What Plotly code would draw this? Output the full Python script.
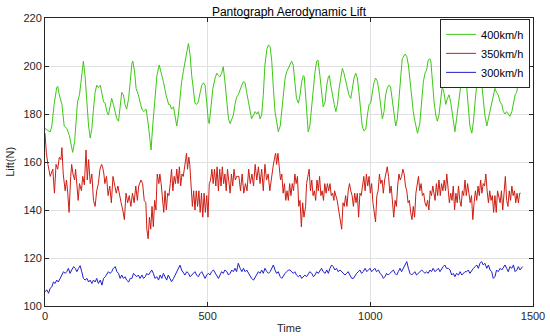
import plotly.graph_objects as go

# ---------------- data ----------------
green_t = [0,11,16,21,28,36,39,44,52,59,67,75,82,85,91,96,100,106,113,118,123,128,134,139,144,149,154,159,164,170,
           175,180,185,190,195,200,205,210,216,221,226,231,236,241,246,251,257,262,267,270,275,280,287,292,298,303,311,318,323,326,
           331,337,344,351,356,364,372,380,
           384,389,395,400,405,410,415,420,425,430,436,441,446,451,456,461,466,471,477,482,487,492,497,502,505,510,516,523,528,533,
           538,543,548,553,559,564,569,574,579,584,589,594,600,605,610,615,620,625,630,635,641,646,651,656,661,666,671,676,682,687,
           692,697,702,707,712,717,723,728,733,738,743,748,
           753,758,763,768,773,779,784,789,794,797,802,806,809,814,820,825,830,835,839,845,850,855,861,866,871,874,879,884,889,894,
           899,904,909,914,919,924,929,934,940,945,950,955,960,965,970,975,980,986,991,996,1001,1006,1011,1016,1022,1027,1032,1037,1042,1047,
           1052,1057,1062,1068,1073,1078,1083,1088,1093,1098,1107,1112,1117,1122,1127,1132,
           1137,1145,1152,1158,1163,1168,1173,1178,1183,1186,1190,1196,1201,1206,1211,1216,1221,1226,1232,1237,
           1242,1247,1252,1257,1260,1265,1271,1276,1281,1286,1291,1296,1301,1306,1312,1317,1322,1327,1332,1337,
           1342,1347,1352,1358,1363,1368,1373,1378,1383,1388,1393,1399,1404,1409,1414,1419,1424,1429,1435,1440,
           1445,1450,1455,1460,1465,1468]
green_v = [174,173,172.5,175,184,191,191.5,188,184,175,174,171,167,164,168.5,179.6,185,188,197.6,202,
           196,184,175,170,174,182,189,192,191,192,188,185,184.5,181,179.6,184,186.5,184,181,178,
           177,182,189,188,184,182,186.5,193.5,201,202,198,190.7,188,185,182,181,182,175,167,165,
           175,185,196,200.4,198,193.5,188,184,
           184,182,183,179.6,175,179.6,188,193.5,197.6,202,206,209.4,204.6,196,189,184.5,184,185,189,192,
           193,192,185,177,176,182,190.7,195,197,196,195.5,197,199.7,193.5,185,178,176,178,179.6,184,
           187,188,190.7,192,193.5,193,189,185,181,178,179.6,181,180,181,178,179.6,188,200.4,207,208.8,
           208,202,190.7,181,177,172.6,175,182,189,195,197.6,199,
           200.4,202,200.4,193.5,186.5,184.5,188,193.5,196,195.5,186.5,177,172.6,175,184,192,197.6,202,202.5,196,
           188,183,185,192,195.5,196,191.5,187,184,181,184,190.7,196,199,197,193.5,190.7,188,186.5,190.7,
           195,197,195,189,181,175,173,173.6,179.6,184,184.5,189,193,195,193.5,189,182,178,181,188,
           190.7,192,191.5,185,179.6,175,178,186.5,196,203,205,204,200.4,193.5,186.5,181,
           177,172,176,186.5,193.5,197,198.3,202.5,203,202,193.5,185,179.6,177,179.6,186.5,191.4,189,184,186.5,
           188,185,179.6,174,172.6,178,185,190.7,196,200.4,199.7,192,184,175,172,177,185,193.5,199,199.7,
           193.5,185,179.6,175,178,182,185,188,190.7,189,188,185,184,181,180,181,180,179,181,185,
           188,189,193.5,195.5,194,195]

red_t = [0,4,9,16,24,29,34,39,44,49,52,56,62,66,70,74,79,82,86,91,94,99,102,106,112,116,121,126,130,134,
         139,144,149,154,159,164,169,174,177,181,184,189,194,199,204,209,214,219,224,229,234,239,244,249,254,259,264,269,274,279,
         284,288,
         295,300,305,310,313,317,321,325,329,333,337,341,345,350,353,357,361,365,369,373,377,381,385,389,393,397,401,405,409,413,
         417,421,425,430,435,438,442,445,450,453,457,461,465,469,473,477,481,485,489,493,497,501,505,509,513,517,521,525,529,533,
         537,541,545,549,553,557,561,565,569,573,577,581,585,589,
         596,601,606,611,616,621,626,631,636,641,646,651,656,661,666,671,676,681,686,691,696,701,706,709,712,716,720,724,728,732,
         736,740,744,748,752,756,760,764,768,772,776,780,784,788,792,796,801,804,808,812,816,820,824,828,832,836,840,844,848,852,
         856,860,864,868,872,876,880,884,888,890,
         898,903,908,912,916,920,924,928,932,936,940,944,948,952,956,960,964,968,972,976,980,984,988,992,996,1000,1004,1008,1012,1016,
         1020,1024,1028,1032,1036,1040,1044,1048,1052,1056,1060,1064,1068,1072,1076,1080,1084,1088,1092,1096,1100,1104,1108,1112,1116,1120,1124,1128,1132,1136,
         1140,1144,1148,1152,1156,1160,1164,1168,1172,1176,1180,1184,1188,1192,
         1199,1203,1207,1211,1215,1219,1223,1227,1231,1235,1239,1243,1247,1251,1255,1259,1263,1267,1271,1275,
         1279,1283,1287,1291,1295,1299,1303,1307,1311,1315,1319,1323,1327,1331,1335,1339,1343,1347,1351,1355,
         1359,1363,1367,1371,1375,1379,1383,1387,1391,1395,1399,1403,1407,1411,1415,1419,1423,1427,1431,1435,
         1439,1443,1447,1451,1455,1459,1462]
red_v = [172,164,159,154,157,147,159,157,162,161,166,155,148,152.5,147,139,154,159,155,152.5,
         157,148,144,151,148,154,150.5,165,152.5,161,151,155,144,141.5,148,151,157,159,158,155,
         151,154,146,150,143,154,151,147,150,146,143,140,136,147,143,146,141.5,147,143,150,144,150,
         152.5,151,144,143,132,128,137,132,141.5,133,144,140,155,151,155,151,144,139,148,140,
         147,146,151,157,148,154,151,157,151,158,150,155,154,159,163.6,157,162,159,148,141.5,
         148,140,148,141.5,148,139,147,137,147,139,146,137,151,152.5,157,151,157,150,158,148,
         157,150,158,151,155,148,157,150,147,155,150,157,152.5,154,
         154,148,155,147,151,148,157,151,155,150,159,152.5,158,151,157,148,159,152.5,155,148,
         154,158,162,163.6,159,163.6,158,152.5,155,147,151,144,148,144,151,146,151,148,155,151,
         154,141.5,144,133,143,137,141.5,151,154,157,148,152.5,146,148,144,152.5,148,154,146,148,
         144,151,147,151,148,151,146,147,144,148,
         144,140,137,132,143,141.5,146,141.5,148,151,148,146,141.5,147,143,147,137,147,146,151,
         154,148,155,150,154,147,151,143,139,135,146,148,155,151,152.5,147,152.5,155,158,154,
         147,150,144,137,144,141.5,150,155,152.5,154,157,155,150,148,143,144,139,136,141.5,137,
         147,151,154,148,151,146,147,143,141.5,144,140,148,146,150,
         144,151,146,152.5,146,151,148,152.5,148,155,148,143,147,144,150,140,147,143,150,144,
         141.5,148,146,152.5,146,151,147,143,146,136,143,148,144,150,146,152.5,147,151,150,155,
         148,143,148,144,146,139,146,139,148,146,143,148,140,147,154,144,141.5,148,144,150,
         146,148,143,147,143,147,147]

blue_t = [0,6,11,16,21,26,31,36,41,47,52,57,62,67,72,77,82,88,93,98,103,108,113,118,123,129,134,139,144,149,
          154,159,164,170,175,180,185,190,195,200,205,210,216,221,226,231,236,241,246,251,257,262,267,272,277,282,287,292,298,303,
          308,313,318,323,328,333,338,344,349,354,359,364,
          369,374,379,384,389,395,400,405,410,415,420,425,430,436,441,446,451,456,461,466,471,477,482,487,492,497,502,507,512,518,
          523,528,533,538,543,548,553,559,564,569,574,579,584,589,594,600,605,610,615,620,625,630,635,641,646,651,656,661,666,671,
          676,682,687,692,697,702,707,712,717,723,728,733,738,743,748,
          753,758,763,768,773,779,784,789,794,799,804,809,814,820,825,830,835,840,845,850,855,861,866,871,876,881,886,891,896,901,
          907,912,917,922,927,932,937,943,948,953,958,963,968,973,978,984,989,994,999,1004,1009,1014,1019,1025,1030,1035,1040,1045,1050,1055,
          1060,1066,1071,1076,1081,1086,1091,1096,1102,1107,1112,1117,1122,1127,1132,
          1137,1142,1147,1152,1158,1163,1168,1173,1178,1183,1188,1193,1199,1204,1209,1214,1219,1224,1229,1234,
          1240,1245,1250,1255,1260,1265,1271,1276,1281,1286,1291,1296,1301,1306,1312,1317,1322,1327,1332,1337,
          1342,1347,1352,1358,1363,1368,1373,1378,1383,1388,1393,1399,1404,1409,1414,1419,1424,1429,1435,1440,
          1445,1450,1455,1460,1465,1468]
blue_v = [106,106.7,105.3,107.4,108,110,109.4,110.8,110,111.5,112.9,114.3,113.6,114.3,115.7,113.6,115,116.4,115.7,114.3,
          115.7,116.8,114.3,111.5,110.8,111.5,110,110.8,109.4,110.8,110,111.5,109.4,110.8,108.7,111.5,112.2,113.6,114.3,113.6,
          114.3,115.7,116.4,114.3,113.6,111.5,112.9,111.5,112.2,110.8,110,111.5,111.5,113.6,112.9,112.2,112.9,111.5,112.9,111.5,
          112.2,113.6,112.9,114.3,115,113.6,111.5,112.2,110.8,112.9,111.5,113.6,
          112.2,110.8,112.9,111.5,110.1,111.5,112.9,113.6,115.7,117,115,113.6,112.9,114.3,113.6,112.2,112.9,113.6,114.3,112.9,
          112.2,113.6,114.3,112.9,111.5,112.9,113.6,112.9,114.3,115,113.6,112.2,111.5,112.9,114.3,113.6,115,114.3,112.9,113.6,
          115,114.3,115.7,114.3,117.8,115.7,114.3,115.7,114.3,115,113.6,112.9,111.5,110.8,112.2,113.6,114.3,113.6,115,113.6,
          115.7,114.3,113.6,114.3,115.7,117.1,115,113.6,114.3,112.2,111.5,112.9,113.6,114.3,115,
          115,114.3,113.6,114.3,112.9,112.2,112.9,111.5,112.2,112.9,112.2,113.6,114.3,113.6,112.2,112.9,114.3,113.6,115,115.7,
          114.3,113.6,115,113.6,115.7,117.1,116.4,115,115.7,114.3,115,114.3,113.6,112.9,113.6,114.3,112.9,111.5,111.5,112.9,
          113.6,114.3,115,113.6,114.3,115.7,114.3,115,115.7,114.3,115,115.7,114.3,115,113.6,112.9,111.5,112.2,113.6,112.9,
          113.6,114.3,115,113.6,112.9,114.3,115.7,114.3,115.7,117.1,118.5,115.7,113.6,112.9,113.6,
          114.3,112.9,113.6,114.3,115,114.3,113.6,114.3,113.6,115,114.3,115.7,114.3,115,115.7,114.3,115.7,116.4,117.1,115.7,
          115.7,115,112.9,113.6,112.2,113.6,112.9,114.3,112.9,113.6,114.3,114.3,115,113.6,115,115.7,116.4,117.1,115.7,117.8,
          118.5,117.1,117.8,115.7,117.1,115,114.3,111.5,112.2,115,114.3,115.7,115,116.4,117.1,115.7,114.3,116.4,115.7,117.1,
          114.3,115,116.4,115,115.7,116.4]

series_names = ["400km/h", "350km/h", "300km/h"]
x_ticks = [0, 500, 1000, 1500]
y_ticks = [100, 120, 140, 160, 180, 200, 220]

# ---------------- figure ----------------
FONT = "Liberation Sans, Arial, Helvetica, sans-serif"
colors = ["rgb(60,200,20)", "rgb(205,30,20)", "rgb(30,30,205)"]

fig = go.Figure()
for t, v, name, c in zip([green_t, red_t, blue_t], [green_v, red_v, blue_v], series_names, colors):
    fig.add_trace(go.Scatter(x=t, y=v, mode="lines", name=name,
                             line=dict(color=c, width=1)))

axis_common = dict(showline=True, linecolor="#262626", linewidth=1, mirror="ticks",
                   ticks="inside", ticklen=4, tickcolor="#262626",
                   showgrid=True, gridcolor="#e0e0e0", gridwidth=1, zeroline=False,
                   tickfont=dict(family=FONT, size=11, color="#262626"))

fig.update_layout(
    width=550, height=336,
    margin=dict(l=45, r=17, t=18, b=30),
    paper_bgcolor="white", plot_bgcolor="white",
    font=dict(family=FONT, size=11, color="#262626"),
    title=dict(text="Pantograph Aerodynamic Lift", x=0.5, xref="paper", xanchor="center",
               y=1, yref="paper", yanchor="bottom", pad=dict(b=2),
               font=dict(family=FONT, size=12, color="#000000")),
    legend=dict(x=0.994, y=0.997, xanchor="right", yanchor="top",
                bgcolor="white", bordercolor="#262626", borderwidth=1,
                font=dict(family=FONT, size=11, color="#000000"),
                tracegroupgap=0, itemwidth=30),
    showlegend=True,
    annotations=[
        dict(text="Time", xref="paper", yref="paper", x=0.5, y=-0.0764,
             xanchor="center", yanchor="middle", showarrow=False,
             font=dict(family=FONT, size=11, color="#262626")),
        dict(text="Lift(N)", xref="paper", yref="paper", x=-0.072, y=0.5,
             xanchor="center", yanchor="middle", textangle=-90, showarrow=False,
             font=dict(family=FONT, size=11, color="#262626")),
    ],
)
fig.update_xaxes(range=[0, 1500], tickvals=x_ticks, automargin=False, **axis_common)
fig.update_yaxes(range=[100, 220], tickvals=y_ticks, automargin=False, **axis_common)

fig.write_html("out.html", config={"displayModeBar": False},
               post_script="document.body.style.margin='0';")
